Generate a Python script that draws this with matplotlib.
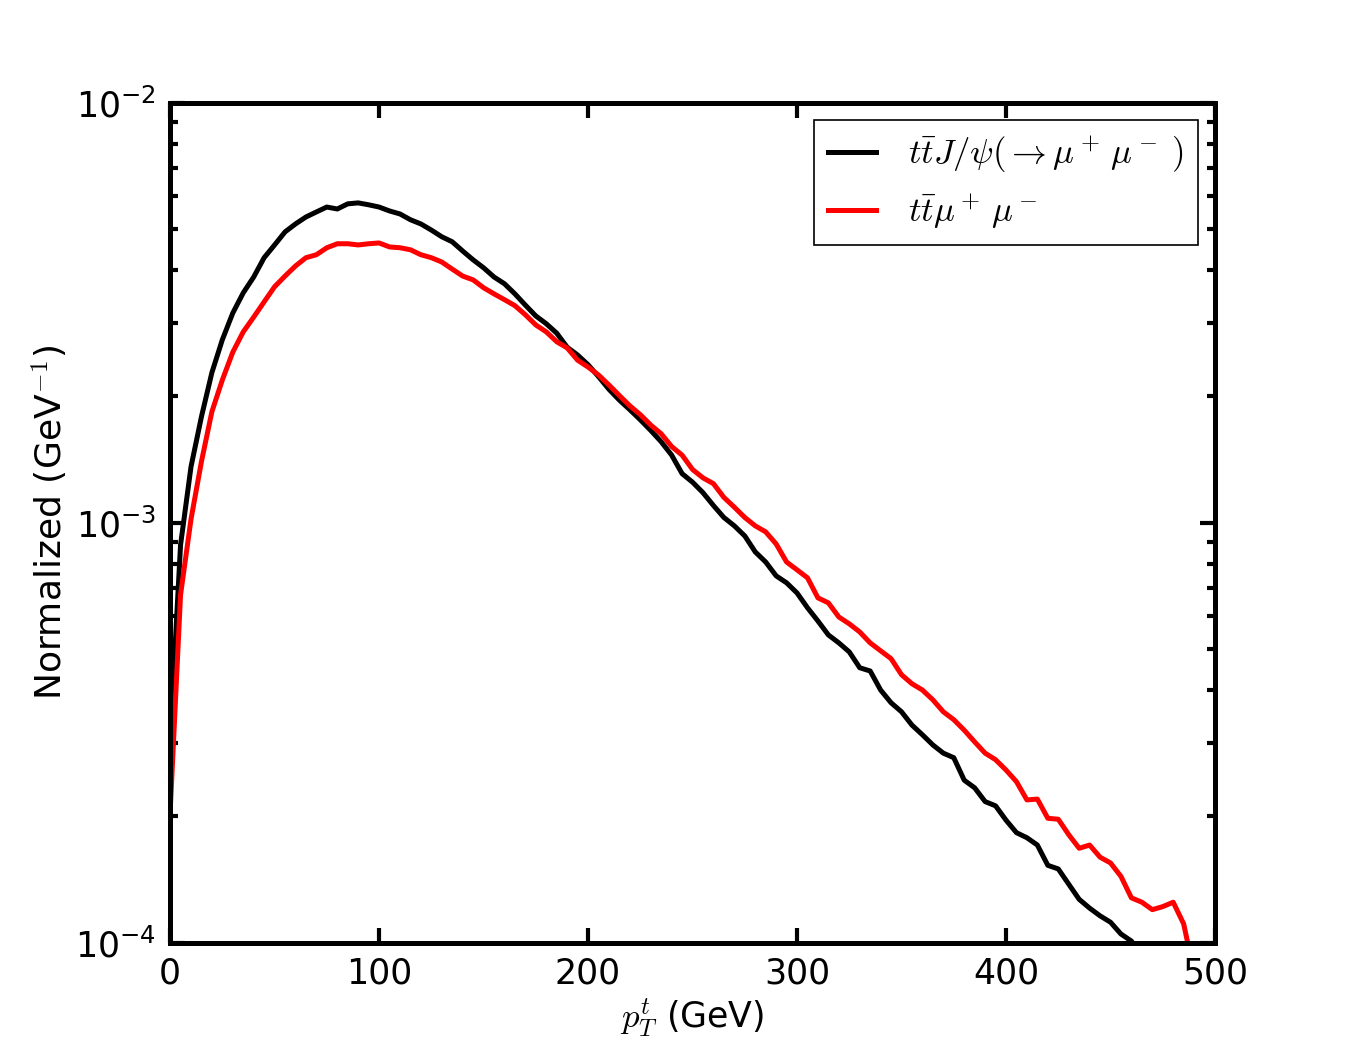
import math
import matplotlib
matplotlib.use('Agg')
import matplotlib.pyplot as plt
from matplotlib.ticker import FixedLocator, LogLocator, NullFormatter, FuncFormatter, NullLocator

# pT bins, 5 GeV wide
pt_black = [5 * i for i in range(94)]
pt_red = [5 * i for i in range(99)]

# ttJ/psi(->mu+ mu-)
jpsi = [3.04e-4, 8.86e-4, 1.36e-3, 1.79e-3, 2.28e-3, 2.73e-3, 3.16e-3, 3.53e-3, 3.85e-3, 4.28e-3,
        4.59e-3, 4.93e-3, 5.15e-3, 5.35e-3, 5.50e-3, 5.65e-3, 5.59e-3, 5.75e-3, 5.78e-3, 5.72e-3,
        5.65e-3, 5.53e-3, 5.44e-3, 5.27e-3, 5.15e-3, 4.98e-3, 4.80e-3, 4.67e-3, 4.44e-3, 4.23e-3,
        4.05e-3, 3.85e-3, 3.71e-3, 3.51e-3, 3.30e-3, 3.11e-3, 2.98e-3, 2.83e-3, 2.62e-3, 2.51e-3,
        2.38e-3, 2.23e-3, 2.08e-3, 1.96e-3, 1.86e-3, 1.76e-3, 1.66e-3, 1.56e-3, 1.45e-3, 1.31e-3,
        1.25e-3, 1.18e-3, 1.10e-3, 1.03e-3, 9.84e-4, 9.31e-4, 8.53e-4, 8.07e-4, 7.48e-4, 7.20e-4,
        6.81e-4, 6.28e-4, 5.84e-4, 5.41e-4, 5.18e-4, 4.93e-4, 4.52e-4, 4.44e-4, 4.00e-4, 3.73e-4,
        3.55e-4, 3.30e-4, 3.13e-4, 2.96e-4, 2.83e-4, 2.76e-4, 2.44e-4, 2.34e-4, 2.17e-4, 2.12e-4,
        1.96e-4, 1.83e-4, 1.78e-4, 1.71e-4, 1.53e-4, 1.50e-4, 1.38e-4, 1.27e-4, 1.21e-4, 1.16e-4,
        1.12e-4, 1.05e-4, 1.01e-4, 9.3e-5]

# tt mu+ mu-
mumu = [2.04e-4, 6.74e-4, 1.02e-3, 1.40e-3, 1.84e-3, 2.19e-3, 2.55e-3, 2.85e-3, 3.09e-3, 3.36e-3,
        3.65e-3, 3.87e-3, 4.09e-3, 4.28e-3, 4.35e-3, 4.52e-3, 4.62e-3, 4.62e-3, 4.59e-3, 4.62e-3,
        4.64e-3, 4.54e-3, 4.52e-3, 4.47e-3, 4.35e-3, 4.28e-3, 4.18e-3, 4.02e-3, 3.87e-3, 3.79e-3,
        3.63e-3, 3.51e-3, 3.40e-3, 3.29e-3, 3.13e-3, 2.96e-3, 2.85e-3, 2.70e-3, 2.61e-3, 2.44e-3,
        2.35e-3, 2.25e-3, 2.13e-3, 2.01e-3, 1.90e-3, 1.81e-3, 1.71e-3, 1.63e-3, 1.52e-3, 1.45e-3,
        1.34e-3, 1.28e-3, 1.24e-3, 1.15e-3, 1.09e-3, 1.03e-3, 9.84e-4, 9.52e-4, 8.91e-4, 8.07e-4,
        7.73e-4, 7.40e-4, 6.63e-4, 6.45e-4, 5.97e-4, 5.75e-4, 5.50e-4, 5.18e-4, 4.96e-4, 4.75e-4,
        4.35e-4, 4.14e-4, 4.00e-4, 3.79e-4, 3.55e-4, 3.40e-4, 3.21e-4, 3.01e-4, 2.83e-4, 2.73e-4,
        2.58e-4, 2.42e-4, 2.19e-4, 2.20e-4, 1.98e-4, 1.97e-4, 1.81e-4, 1.68e-4, 1.71e-4, 1.60e-4,
        1.55e-4, 1.44e-4, 1.28e-4, 1.25e-4, 1.20e-4, 1.22e-4, 1.25e-4, 1.11e-4, 8.5e-5]

xticks = [0, 100, 200, 300, 400, 500]
ydecades = [1e-4, 1e-3, 1e-2]

plt.rcParams['mathtext.fontset'] = 'cm'
plt.rcParams['font.family'] = 'DejaVu Sans'

fig = plt.figure(figsize=(13.5, 10.5), dpi=100)
ax = fig.add_axes([0.126, 0.102, 0.774, 0.8])

ax.plot(pt_black, jpsi, color='black', lw=3.6, label=r'$t\bar{t}J/\psi(\rightarrow\mu^+\,\mu^-\;)$')
ax.plot(pt_red, mumu, color='red', lw=3.6, label=r'$t\bar{t}\mu^+\,\mu^-$')

ax.set_yscale('log')
ax.set_xlim(0, 500)
ax.set_ylim(1e-4, 1e-2)

ax.xaxis.set_major_locator(FixedLocator(xticks))
ax.xaxis.set_minor_locator(NullLocator())
ax.yaxis.set_major_locator(FixedLocator(ydecades))
ax.yaxis.set_minor_locator(LogLocator(base=10, subs=range(2, 10)))
ax.yaxis.set_minor_formatter(NullFormatter())

def dec_fmt(v, pos):
    e = int(round(math.log10(v)))
    return r'$\mathregular{10^{%d}}$' % e

ax.yaxis.set_major_formatter(FuncFormatter(dec_fmt))

for s in ax.spines.values():
    s.set_linewidth(3.6)

ax.tick_params(which='both', direction='in', top=True, right=True, labelsize=25, width=3)
ax.tick_params(which='major', length=11, pad=10)
ax.tick_params(which='minor', length=6)

ax.set_xlabel(r'$p_T^t$ (GeV)', fontsize=25, labelpad=4)
ax.set_ylabel(r'Normalized (GeV$^{-1}$)', fontsize=26, labelpad=4)

leg = ax.legend(loc='upper right', fontsize=25, fancybox=False, framealpha=1,
                edgecolor='black', handlelength=1.4, handletextpad=0.9, borderaxespad=0.5)
leg.get_frame().set_linewidth(1.2)

fig.savefig('out.png', dpi=100)
